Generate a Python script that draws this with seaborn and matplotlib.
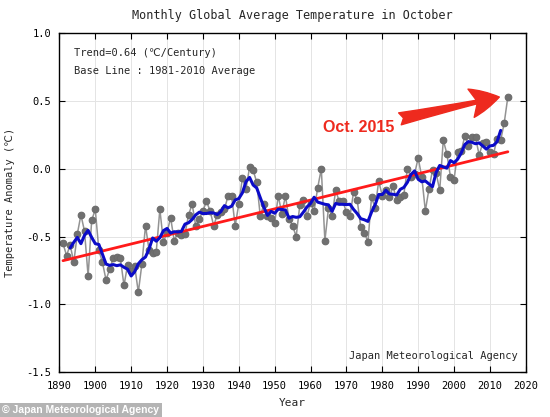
import numpy as np
import pandas as pd
import matplotlib.pyplot as plt
import seaborn as sns

# ------------------------------------------------------------
# data (October global temperature anomaly)
# ------------------------------------------------------------
years = list(range(1891, 2016))
anomaly = [
    -0.55, -0.64, -0.56, -0.69, -0.48, -0.34, -0.46, -0.79, -0.38, -0.30,   # 1891-1900
    -0.60, -0.69, -0.82, -0.74, -0.66, -0.65, -0.66, -0.86, -0.71, -0.75,   # 1901-1910
    -0.72, -0.91, -0.70, -0.42, -0.60, -0.62, -0.61, -0.30, -0.54, -0.47,   # 1911-1920
    -0.36, -0.53, -0.47, -0.49, -0.48, -0.34, -0.26, -0.42, -0.37, -0.31,   # 1921-1930
    -0.24, -0.31, -0.42, -0.34, -0.32, -0.30, -0.20, -0.20, -0.42, -0.26,   # 1931-1940
    -0.07, -0.15, 0.01, -0.01, -0.10, -0.35, -0.26, -0.35, -0.36, -0.40,    # 1941-1950
    -0.20, -0.33, -0.20, -0.37, -0.42, -0.50, -0.27, -0.23, -0.35, -0.25,   # 1951-1960
    -0.31, -0.14, 0.00, -0.53, -0.29, -0.35, -0.16, -0.24, -0.24, -0.32,    # 1961-1970
    -0.35, -0.17, -0.23, -0.43, -0.47, -0.54, -0.21, -0.29, -0.09, -0.20,   # 1971-1980
    -0.16, -0.21, -0.13, -0.23, -0.21, -0.19, 0.00, -0.06, -0.04, 0.08,     # 1981-1990
    -0.06, -0.31, -0.15, -0.01, -0.03, -0.16, 0.21, 0.11, -0.06, -0.08,     # 1991-2000
    0.12, 0.13, 0.24, 0.17, 0.23, 0.23, 0.10, 0.19, 0.20, 0.12,             # 2001-2010
    0.11, 0.22, 0.21, 0.34, 0.53,                                           # 2011-2015
]
x_ticks = list(range(1890, 2021, 10))
y_ticks = [1.0, 0.5, 0.0, -0.5, -1.0, -1.5]

df = pd.DataFrame({'year': years, 'temp': anomaly})
df['run5'] = df['temp'].rolling(5, center=True).mean()   # 5-year running mean

# ------------------------------------------------------------
# style
# ------------------------------------------------------------
sns.set_style('ticks', {'xtick.direction': 'in', 'ytick.direction': 'in'})
plt.rcParams['font.family'] = ['DejaVu Sans Mono', 'DejaVu Sans']

fig = plt.figure(figsize=(5.5, 4.17), dpi=100)
ax = fig.add_axes([0.108, 0.107, 0.848, 0.814])

ax.grid(True, color='#e4e4e4', lw=0.7)
ax.set_axisbelow(True)

sns.lineplot(data=df, x='year', y='temp', color='#939393', lw=1.1,
             marker='o', markersize=4.8, markerfacecolor='#707070',
             markeredgecolor='#6a6a6a', ax=ax)
sns.regplot(data=df, x='year', y='temp', scatter=False, ci=None,
            color='#ff1a1a', line_kws={'lw': 2}, ax=ax)
sns.lineplot(data=df, x='year', y='run5', color='#0b0bc8', lw=2.2, ax=ax)

ax.set_xlim(1890, 2020)
ax.set_ylim(-1.5, 1.0)
ax.set_xticks(x_ticks)
ax.set_yticks(y_ticks)
ax.set_yticklabels([f'{v:.1f}' for v in y_ticks])
ax.tick_params(axis='both', labelsize=7.5, length=4, width=0.8, pad=6,
               top=True, right=True, colors='black')
for s in ax.spines.values():
    s.set_color('black')
    s.set_linewidth(1)

ax.set_title('Monthly Global Average Temperature in October', fontsize=8.5, pad=10)
ax.set_xlabel('Year', fontsize=8, labelpad=5)
ax.set_ylabel('Temperature Anomaly (℃)', fontsize=7.5, labelpad=8)

ax.text(0.031, 0.941, 'Trend=0.64 (℃/Century)', transform=ax.transAxes,
        fontsize=7.5, va='center', ha='left')
ax.text(0.031, 0.889, 'Base Line : 1981-2010 Average', transform=ax.transAxes,
        fontsize=7.5, va='center', ha='left')
ax.text(0.983, 0.048, 'Japan Meteorological Agency', transform=ax.transAxes,
        fontsize=7.5, va='center', ha='right')

ax.annotate('Oct. 2015', xy=(2013.0, 0.53), xytext=(1973.3, 0.30),
            fontsize=11.5, fontweight='bold', color='#ee2a1e',
            family='Liberation Sans', ha='center', va='center',
            arrowprops=dict(arrowstyle='fancy,head_length=1.3,head_width=1.3,tail_width=0.55',
                            color='#ee2a1e', mutation_scale=16, shrinkA=2, shrinkB=1))

fig.text(0.004, 0.004, '© Japan Meteorological Agency', fontsize=7.5,
         family='Liberation Sans', fontweight='bold', color='white',
         va='bottom', ha='left',
         bbox=dict(facecolor='#b4b4b4', edgecolor='none', pad=2))

fig.savefig('out.png', dpi=100)
